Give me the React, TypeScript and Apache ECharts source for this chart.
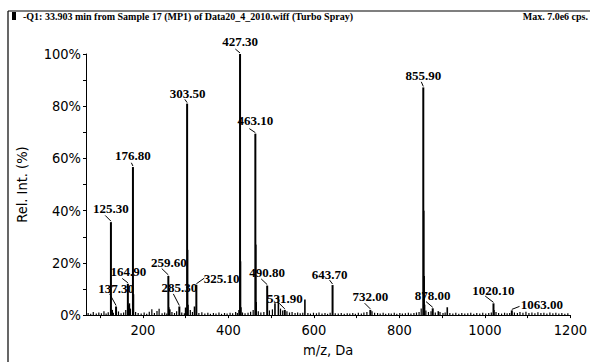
import React, { useEffect, useRef } from "react";
import * as echarts from "echarts";

// Labelled peaks (m/z, relative intensity %)
const labelledMz = [125.3, 137.3, 164.9, 176.8, 259.6, 285.3, 303.5, 325.1, 427.3, 463.1, 490.8, 531.9, 643.7, 732.0, 855.9, 878.0, 1020.1, 1063.0];
const labelledInt = [35.6, 3.3, 12.0, 56.7, 15.0, 3.3, 81.0, 11.6, 100, 69.5, 11.3, 2.0, 11.5, 2.0, 87.2, 2.6, 4.5, 1.8];

// Unlabelled peaks
const extraMz = [128.3, 166.9, 168.5, 178.0, 260.6, 263.0, 300.0, 304.5, 305.5, 320.8, 425.0, 428.3, 429.3, 464.1, 465.1, 509.0, 517.0, 579.0, 856.9, 857.9, 858.9, 891.0, 912.0, 1021.1];
const extraInt = [2.0, 3.8, 4.5, 8.0, 3.0, 2.2, 2.9, 25.0, 4.0, 3.3, 2.0, 20.6, 3.0, 27.0, 5.0, 4.5, 7.0, 6.0, 40.0, 15.0, 4.0, 1.5, 3.0, 2.0];

// Baseline noise
const noiseMz = [72, 78, 84, 91, 97, 103, 109, 114, 119, 131, 143, 149, 155, 160, 171, 183, 189, 196, 203, 209, 215, 221, 227, 233, 238, 245, 251, 256, 268, 274, 279, 291, 297, 311, 316, 331, 338, 345, 352, 358, 365, 371, 378, 384, 391, 397, 404, 410, 417, 421, 433, 439, 446, 452, 458, 470, 476, 483, 496, 503, 522, 527, 537, 543, 549, 556, 562, 568, 574, 586, 592, 599, 606, 612, 619, 626, 632, 638, 650, 657, 664, 671, 678, 684, 691, 697, 704, 711, 717, 724, 736, 742, 749, 755, 762, 768, 775, 781, 788, 794, 801, 807, 814, 821, 827, 834, 840, 846, 851, 862, 868, 874, 884, 895, 902, 907, 918, 925, 932, 939, 946, 953, 960, 967, 974, 981, 988, 995, 1002, 1009, 1015, 1026, 1032, 1039, 1046, 1052, 1058, 1069, 1076, 1082, 1089, 1096, 1103, 1110, 1117, 1124, 1131, 1138, 1145, 1152, 1159, 1166, 1173, 1180, 1187, 1194];
const noiseInt = [0.8, 0.5, 1.2, 0.6, 1.0, 0.7, 1.5, 0.6, 1.1, 0.9, 1.4, 0.7, 1.0, 2.0, 2.5, 1.2, 0.8, 0.6, 1.0, 0.5, 1.3, 2.2, 0.8, 1.6, 2.4, 0.7, 1.0, 0.6, 1.2, 0.8, 1.5, 1.0, 0.7, 2.0, 1.2, 0.8, 1.1, 0.6, 0.9, 0.5, 0.8, 0.6, 1.0, 0.5, 0.8, 0.6, 0.9, 0.7, 1.2, 0.8, 1.0, 0.7, 0.9, 1.3, 2.0, 1.5, 1.0, 1.2, 1.8, 2.2, 2.5, 1.8, 1.5, 1.0, 1.2, 0.8, 1.0, 0.7, 0.9, 0.8, 0.6, 0.9, 0.7, 1.0, 0.6, 0.8, 0.5, 0.9, 0.7, 0.6, 0.8, 0.5, 0.7, 0.6, 0.8, 0.5, 0.9, 0.6, 1.0, 1.2, 1.5, 0.9, 0.8, 0.6, 0.9, 0.5, 0.7, 0.6, 0.9, 0.5, 0.8, 0.6, 0.7, 0.9, 0.6, 0.8, 1.0, 1.2, 2.5, 1.8, 1.2, 1.5, 1.0, 1.2, 0.8, 1.0, 0.8, 0.6, 0.9, 0.5, 0.8, 0.6, 0.7, 0.9, 0.5, 0.8, 0.6, 0.9, 0.6, 0.8, 1.0, 1.2, 0.8, 0.6, 0.9, 0.7, 0.8, 1.0, 0.8, 1.2, 0.9, 1.3, 0.8, 1.0, 0.7, 1.1, 0.8, 0.9, 0.6, 1.0, 0.7, 0.9, 0.6, 0.8, 0.5, 0.7];

// Axis ticks / labels
const xLabelValues = [200, 400, 600, 800, 1000, 1200];
const xTickValues = [100, 200, 300, 400, 500, 600, 700, 800, 900, 1000, 1100, 1200];

// Label layout: [dx, dy] of label centre from peak top, [lx, ly] leader start
const labelLayout: number[][] = [
  [0, -13.7, -5.7, -6.7],
  [0, -18, -6.4, -12.6],
  [0.5, -12.3, -5.6, -5.3],
  [0, -12, -1.6, -4.3],
  [0.5, -13.4, -6.6, -7.4],
  [0, -18.7, -6, -12.6],
  [0.5, -10, -2.3, -4.3],
  [25.4, -6.3, 8, -6.7],
  [0, -13, -4.7, -5],
  [0, -13, -6, -5],
  [0, -13.4, -6, -6.7],
  [0, -11.7, -5.7, -6.7],
  [-3, -11, -3, -5],
  [0, -13, -5.7, -6.7],
  [0, -11.6, -2, -5.6],
  [0, -13, -6.7, -6.7],
  [0, -13, -8.3, -7.3],
  [30, -5.7, 7.7, -4],
];

const SANS = '"DejaVu Sans Condensed", "Liberation Sans Narrow", "Liberation Sans", Arial, sans-serif';
const SERIF = '"Liberation Serif", "Times New Roman", serif';

export default function App() {
  const ref = useRef<HTMLDivElement>(null);
  useEffect(() => {
    if (!ref.current) return;
    const chart = echarts.init(ref.current, null, { renderer: "svg" });

    const stick = (w: number) => (params: any, api: any) => {
      const m = api.value(0);
      const h = api.value(1);
      const b = api.coord([m, 0]);
      const t = api.coord([m, h]);
      return {
        type: "line",
        shape: { x1: b[0], y1: b[1], x2: t[0], y2: t[1] },
        style: { stroke: "#000", lineWidth: w },
      };
    };

    const option: any = {
      animation: false,
      backgroundColor: "#fff",
      grid: { left: 86, right: 17, top: 54, bottom: 40, containLabel: false },
      xAxis: {
        type: "value",
        min: 67,
        max: 1200,
        splitLine: { show: false },
        axisLine: { show: true, onZero: false, lineStyle: { color: "#000", width: 1 } },
        axisTick: { show: true, customValues: xTickValues, length: 3, lineStyle: { color: "#000" } },
        axisLabel: {
          customValues: xLabelValues,
          formatter: (v: number) => String(v),
          fontFamily: SANS,
          fontSize: 14.5,
          color: "#000",
          margin: 7,
        },
        name: "m/z, Da",
        nameLocation: "middle",
        nameGap: 24,
        nameTextStyle: { fontFamily: SANS, fontSize: 14.5, color: "#000" },
      },
      yAxis: {
        type: "value",
        min: 0,
        max: 100,
        interval: 10,
        splitLine: { show: false },
        axisLine: { show: true, lineStyle: { color: "#000", width: 1 } },
        axisTick: { show: true, length: 3, lineStyle: { color: "#000" } },
        axisLabel: {
          formatter: (v: number) => (v % 20 === 0 ? v + "%" : ""),
          fontFamily: SANS,
          fontSize: 14.5,
          color: "#000",
          margin: 5,
        },
        name: "Rel. Int. (%)",
        nameLocation: "middle",
        nameGap: 57,
        nameTextStyle: { fontFamily: SANS, fontSize: 14.5, color: "#000" },
      },
      graphic: [
        { type: "line", shape: { x1: 8, y1: 11, x2: 590, y2: 11 }, style: { stroke: "#000", lineWidth: 1.2 } },
        { type: "line", shape: { x1: 8, y1: 11, x2: 8, y2: 362 }, style: { stroke: "#000", lineWidth: 1.2 } },
        { type: "rect", shape: { x: 12, y: 12, width: 4, height: 8 }, style: { fill: "#000" } },
        {
          type: "text",
          x: 23,
          y: 16,
          style: {
            text: "-Q1: 33.903 min from Sample 17 (MP1) of Data20_4_2010.wiff (Turbo Spray)",
            font: `bold 10px ${SERIF}`,
            fill: "#000",
            verticalAlign: "middle",
          },
        },
        {
          type: "text",
          x: 588,
          y: 16,
          style: {
            text: "Max. 7.0e6 cps.",
            font: `bold 10px ${SERIF}`,
            fill: "#000",
            align: "right",
            verticalAlign: "middle",
          },
        },
      ],
      series: [
        {
          type: "custom",
          clip: true,
          renderItem: stick(1.2),
          data: noiseMz.map((m, i) => [m, noiseInt[i]]),
        },
        {
          type: "custom",
          clip: true,
          renderItem: stick(1.6),
          data: extraMz.map((m, i) => [m, extraInt[i]]),
        },
        {
          type: "custom",
          clip: true,
          renderItem: stick(2),
          data: labelledMz.map((m, i) => [m, labelledInt[i]]),
        },
        {
          type: "custom",
          clip: false,
          renderItem: (params: any, api: any) => {
            const i = params.dataIndex;
            const m = api.value(0);
            const h = api.value(1);
            const t = api.coord([m, h]);
            const [dx, dy, lx, ly] = labelLayout[i];
            return {
              type: "group",
              children: [
                {
                  type: "line",
                  shape: { x1: t[0] + lx, y1: t[1] + ly, x2: t[0], y2: t[1] - 1 },
                  style: { stroke: "#000", lineWidth: 1 },
                },
                {
                  type: "text",
                  x: t[0] + dx,
                  y: t[1] + dy,
                  style: {
                    text: m.toFixed(2),
                    font: `bold 13px ${SERIF}`,
                    fill: "#000",
                    align: "center",
                    verticalAlign: "middle",
                  },
                },
              ],
            };
          },
          data: labelledMz.map((m, i) => [m, labelledInt[i]]),
        },
      ],
    };
    chart.setOption(option);
    return () => chart.dispose();
  }, []);
  return (
    <div
      ref={ref}
      style={{ position: "fixed", left: 0, top: 0, width: 590, height: 362, background: "#fff" }}
    />
  );
}
